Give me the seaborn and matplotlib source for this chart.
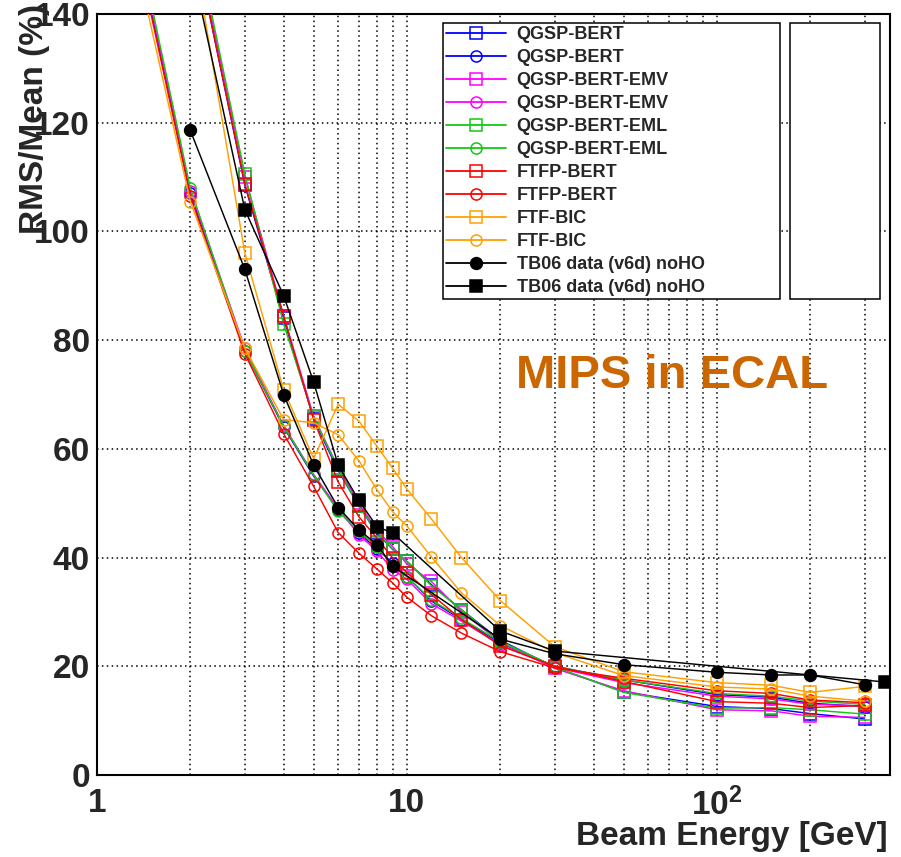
import matplotlib
matplotlib.use("Agg")
import matplotlib.pyplot as plt
import seaborn as sns
from matplotlib.ticker import FixedLocator, NullFormatter, FixedFormatter
from matplotlib.lines import Line2D
from matplotlib.patches import Rectangle

# ---------------- data ----------------
E_circ = [1, 2, 3, 4, 5, 6, 7, 8, 9, 10, 12, 15, 20, 30, 50, 100, 150, 200, 300]
E_sq = [2, 3, 4, 5, 6, 7, 8, 9, 10, 12, 15, 20, 30, 50, 100, 150, 200, 300]
E_data_circ = [2, 3, 4, 5, 6, 7, 8, 9, 20, 30, 50, 100, 150, 200, 300]
E_data_sq = [2, 3, 4, 5, 6, 7, 8, 9, 20, 30, 350]

qgsp_bert_sq = [157, 108.5, 84.0, 65.5, 56.0, 49.5, 44.5, 41.5, 39.3, 35.0, 30.4, 24.8, 19.8, 15.3, 12.6, 12.2, 11.3, 10.3]
qgsp_bert_ci = [187, 107.0, 78.0, 64.0, 55.0, 48.8, 44.5, 41.6, 39.0, 36.5, 32.0, 28.6, 24.3, 20.0, 17.5, 14.8, 14.3, 13.2, 12.6]
qgsp_emv_sq = [158, 110.0, 84.5, 66.0, 56.5, 50.0, 45.0, 42.0, 38.8, 35.6, 30.0, 24.5, 19.6, 15.5, 12.0, 11.8, 10.8, 10.6]
qgsp_emv_ci = [188, 107.5, 78.5, 64.3, 55.3, 49.0, 44.2, 41.2, 37.8, 36.0, 31.5, 28.3, 24.0, 19.8, 17.0, 14.5, 14.0, 13.0, 12.7]
qgsp_eml_sq = [159, 110.5, 83.0, 65.8, 56.3, 49.4, 44.8, 41.5, 39.3, 34.8, 30.4, 24.6, 19.9, 15.2, 12.3, 12.4, 12.0, 11.2]
qgsp_eml_ci = [189, 108.0, 78.0, 64.2, 55.2, 48.5, 44.8, 42.0, 38.5, 36.5, 32.2, 28.8, 24.5, 20.0, 17.5, 15.0, 14.5, 13.6, 13.0]
ftfp_bert_sq = [157, 108.7, 84.5, 65.4, 53.9, 47.5, 43.6, 39.9, 37.2, 33.2, 28.6, 23.8, 20.0, 17.2, 13.5, 13.2, 12.4, 12.8]
ftfp_bert_ci = [186, 106.5, 77.5, 62.8, 53.1, 44.6, 40.8, 37.9, 35.3, 32.7, 29.3, 26.1, 22.7, 19.7, 17.8, 15.5, 15.0, 13.8, 13.3]
ftf_bic_sq = [155, 96.0, 70.9, 58.2, 68.2, 65.1, 60.5, 56.4, 52.6, 47.1, 40.0, 32.1, 23.6, 19.0, 17.0, 16.5, 15.2, 16.3]
ftf_bic_ci = [182, 105.5, 78.5, 65.4, 64.8, 62.6, 57.8, 52.5, 48.4, 45.8, 40.1, 33.5, 27.5, 22.5, 18.3, 16.2, 15.8, 14.5, 13.6]
tb06_ci = [118.6, 93.0, 70.0, 57.0, 49.2, 45.1, 42.4, 38.4, 25.0, 22.3, 20.3, 18.9, 18.4, 18.4, 16.6]
tb06_sq = [150, 104.0, 88.2, 72.3, 57.0, 50.5, 45.7, 44.5, 26.5, 22.8, 17.1]

labels = ["QGSP-BERT", "QGSP-BERT", "QGSP-BERT-EMV", "QGSP-BERT-EMV",
          "QGSP-BERT-EML", "QGSP-BERT-EML", "FTFP-BERT", "FTFP-BERT",
          "FTF-BIC", "FTF-BIC", "TB06 data (v6d) noHO", "TB06 data (v6d) noHO"]

BLUE, MAG, GREEN, RED, ORANGE = "#0000ff", "#ff00ff", "#14c814", "#ff0000", "#ffa000"

series = [
    (E_sq, qgsp_bert_sq, BLUE, "s", False),
    (E_circ, qgsp_bert_ci, BLUE, "o", False),
    (E_sq, qgsp_emv_sq, MAG, "s", False),
    (E_circ, qgsp_emv_ci, MAG, "o", False),
    (E_sq, qgsp_eml_sq, GREEN, "s", False),
    (E_circ, qgsp_eml_ci, GREEN, "o", False),
    (E_sq, ftfp_bert_sq, RED, "s", False),
    (E_circ, ftfp_bert_ci, RED, "o", False),
    (E_sq, ftf_bic_sq, ORANGE, "s", False),
    (E_circ, ftf_bic_ci, ORANGE, "o", False),
    (E_data_circ, tb06_ci, "black", "o", True),
    (E_data_sq, tb06_sq, "black", "s", True),
]

# ---------------- style ----------------
sns.set_theme(style="white")
plt.rcParams["font.family"] = ["Liberation Sans", "DejaVu Sans"]
plt.rcParams["font.weight"] = "bold"
plt.rcParams["axes.labelweight"] = "bold"
plt.rcParams["mathtext.fontset"] = "custom"
plt.rcParams["mathtext.bf"] = "Liberation Sans:bold"
plt.rcParams["mathtext.rm"] = "Liberation Sans:bold"
plt.rcParams["axes.linewidth"] = 1.5

fig = plt.figure(figsize=(9.01, 8.57), dpi=100)
ax = fig.add_axes([97 / 901, 82 / 857, 793 / 901, 761 / 857])

handles = []
for i, (xs, ys, col, mk, filled) in enumerate(series):
    ms = 8.5 if filled else 8
    sns.lineplot(x=xs, y=ys, ax=ax, color=col, marker=mk, markersize=ms,
                 markerfacecolor=(col if filled else "none"), markeredgecolor=col,
                 markeredgewidth=1.1, linewidth=1.05, errorbar=None, sort=False,
                 legend=False, zorder=3 + i, clip_on=True)
    handles.append(Line2D([], [], color=col, marker=mk, markersize=ms,
                          markerfacecolor=(col if filled else "none"),
                          markeredgecolor=col, markeredgewidth=1.1, linewidth=1.3))

ax.set_xscale("log")
ax.set_xlim(1, 362)
ax.set_ylim(0, 140)

ax.xaxis.set_major_locator(FixedLocator([1, 10, 100]))
ax.xaxis.set_major_formatter(FixedFormatter(["1", "10", r"$\mathbf{10^{2}}$"]))
ax.xaxis.set_minor_locator(FixedLocator([2, 3, 4, 5, 6, 7, 8, 9, 20, 30, 40, 50, 60, 70, 80, 90, 200, 300]))
ax.xaxis.set_minor_formatter(NullFormatter())
ax.yaxis.set_major_locator(FixedLocator(list(range(0, 141, 20))))
ax.yaxis.set_minor_locator(FixedLocator(list(range(0, 141, 5))))

ax.tick_params(axis="x", which="major", direction="in", length=14, width=1.2,
               labelsize=24, pad=9, top=False)
ax.tick_params(axis="x", which="minor", direction="in", length=6, width=1.0, top=False)
ax.tick_params(axis="y", which="major", direction="in", length=17, width=1.2,
               labelsize=24, pad=5, right=False)
ax.tick_params(axis="y", which="minor", direction="in", length=8, width=1.0, right=False)

grid_kw = dict(color="black", linestyle=(0, (1, 2.2)), linewidth=1.1)
ax.grid(True, which="both", axis="x", **grid_kw)
ax.grid(True, which="major", axis="y", **grid_kw)
ax.set_axisbelow(True)
for s in ax.spines.values():
    s.set_color("black")
    s.set_linewidth(1.5)

ax.set_xlabel("Beam Energy [GeV]", fontsize=24, fontweight="bold", loc="right")
ax.set_ylabel("RMS/Mean (%)", fontsize=24, fontweight="bold", loc="top")
ax.xaxis.set_label_coords(0.9975, -0.060)
ax.yaxis.set_label_coords(-0.059, 1.013)

leg = ax.legend(handles, labels, loc="upper left",
                bbox_to_anchor=(0.4363, 0.6268, 0.425, 0.3612), mode="expand",
                frameon=True, fancybox=False, framealpha=1, edgecolor="black",
                prop={"size": 13, "weight": "bold"}, handlelength=3.3,
                handletextpad=0.6, labelspacing=0.33, borderpad=0.18,
                borderaxespad=0.0)
leg.get_frame().set_linewidth(1.1)
leg.set_zorder(50)

ax.add_patch(Rectangle((0.8739, 0.6255), 0.1135, 0.3627, transform=ax.transAxes,
                       facecolor="white", edgecolor="black", linewidth=1.1, zorder=50))

fig.text(672 / 901, 1 - 376 / 857, "MIPS in ECAL", fontsize=34, fontweight="bold",
         color="#cc6600", ha="center", va="center")

fig.savefig("out.png", dpi=100)
